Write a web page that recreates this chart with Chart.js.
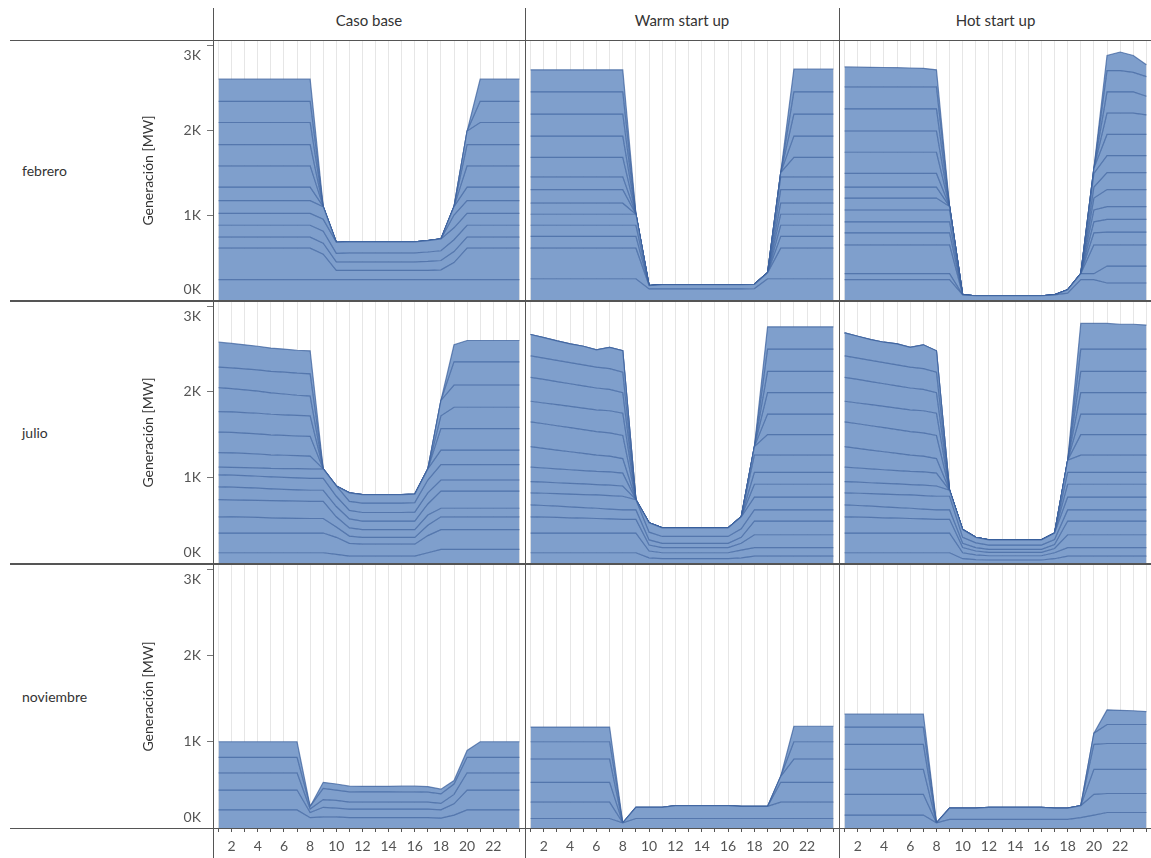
<!DOCTYPE html>
<html lang="es">
<head>
<meta charset="utf-8">
<title>Generación horaria por escenario</title>
<script src="https://cdn.jsdelivr.net/npm/chart.js@4.4.1/dist/chart.umd.min.js"></script>
<style>
  html, body { margin: 0; padding: 0; background: #fff; }
  #page { position: relative; width: 1151px; height: 858px; overflow: hidden;
          font-family: Lato, 'Open Sans', sans-serif; color: #333; }
  .pane { position: absolute; }
  .pane canvas { display: block; }
  .rule { position: absolute; background: #555; z-index: 3; }
  .colhead { position: absolute; top: 10px; height: 20px; line-height: 20px;
             text-align: center; font-size: 15px; color: #333; }
  .rowhead { position: absolute; left: 22px; font-size: 14px; color: #333;
             line-height: 18px; }
</style>
</head>
<body>
<div id="page"></div>
<script>
// Hours of the day and facet labels
const HOURS = [1,2,3,4,5,6,7,8,9,10,11,12,13,14,15,16,17,18,19,20,21,22,23,24];
const X_LABELS = [2,4,6,8,10,12,14,16,18,20,22];
const Y_TICKS = [0,1000,2000,3000];
const MONTHS = ['febrero','julio','noviembre'];
const SCENARIOS = ['Caso base','Warm start up','Hot start up'];

// Hourly output per generating unit [MW], stacked bottom to top
const febBase = [
  [240,240,240,240,240,240,240,240, 240,240,240,240,240,240,240,240, 240,240,240,240,240,240,240,240],
  [370,370,370,370,370,370,370,370, 300,110,110,110,110,110,110,110, 110,115,200,370,370,370,370,370],
  [130,130,130,130,130,130,130,130, 130,100,100,100,100,100,100,100, 105,110,130,130,130,130,130,130],
  [140,140,140,140,140,140,140,140, 140,100,105,105,105,105,105,105, 110,115,140,140,140,140,140,140],
  [140,140,140,140,140,140,140,140, 140,130,130,130,130,130,130,130, 135,140,140,140,140,140,140,140],
  [150,150,150,150,150,150,150,150, 150,0,0,0,0,0,0,0, 0,0,150,150,150,150,150,150],
  [160,160,160,160,160,160,160,160, 0,0,0,0,0,0,0,0, 0,0,100,160,160,160,160,160],
  [250,250,250,250,250,250,250,250, 0,0,0,0,0,0,0,0, 0,0,0,250,250,250,250,250],
  [250,250,250,250,250,250,250,250, 0,0,0,0,0,0,0,0, 0,0,0,250,250,250,250,250],
  [260,260,260,260,260,260,260,260, 0,0,0,0,0,0,0,0, 0,0,0,160,260,260,260,260],
  [250,250,250,250,250,250,250,250, 0,0,0,0,0,0,0,0, 0,0,0,0,250,250,250,250],
  [260,260,260,260,260,260,260,260, 0,0,0,0,0,0,0,0, 0,0,0,0,260,260,260,260]
];
const febWarm = [
  [250,250,250,250,250,250,250,250, 250,130,130,130,130,130,130,130, 130,135,250,250,250,250,250,250],
  [360,360,360,360,360,360,360,360, 360,40,50,50,50,50,50,50, 50,50,70,360,360,360,360,360],
  [140,140,140,140,140,140,140,140, 140,0,0,0,0,0,0,0, 0,0,0,140,140,140,140,140],
  [130,130,130,130,130,130,130,130, 130,0,0,0,0,0,0,0, 0,0,0,130,130,130,130,130],
  [130,130,130,130,130,130,130,130, 130,0,0,0,0,0,0,0, 0,0,0,130,130,130,130,130],
  [130,130,130,130,130,130,130,130, 0,0,0,0,0,0,0,0, 0,0,0,130,130,130,130,130],
  [160,160,160,160,160,160,160,160, 0,0,0,0,0,0,0,0, 0,0,0,160,160,160,160,160],
  [150,150,150,150,150,150,150,150, 0,0,0,0,0,0,0,0, 0,0,0,150,150,150,150,150],
  [230,230,230,230,230,230,230,230, 0,0,0,0,0,0,0,0, 0,0,0,50,230,230,230,230],
  [250,250,250,250,250,250,250,250, 0,0,0,0,0,0,0,0, 0,0,0,0,250,250,250,250],
  [260,260,260,260,260,260,260,260, 0,0,0,0,0,0,0,0, 0,0,0,0,260,260,260,260],
  [260,260,260,260,260,260,260,260, 0,0,0,0,0,0,0,0, 0,0,0,0,260,260,260,260],
  [260,260,260,260,260,260,260,260, 0,0,0,0,0,0,0,0, 0,0,0,0,270,270,270,270]
];
const febHot = [
  [240,240,240,240,240,240,240,240, 240,60,50,50,50,50,50,50, 60,80,240,240,200,200,200,200],
  [70,70,70,70,70,70,70,70, 70,0,0,0,0,0,0,0, 0,40,70,70,200,200,200,200],
  [340,340,340,340,340,340,340,340, 340,0,0,0,0,0,0,0, 0,0,0,340,250,250,250,250],
  [140,140,140,140,140,140,140,140, 140,0,0,0,0,0,0,0, 0,0,0,140,150,150,150,150],
  [130,130,130,130,130,130,130,130, 130,0,0,0,0,0,0,0, 0,0,0,130,150,150,150,150],
  [140,140,140,140,140,140,140,140, 140,0,0,0,0,0,0,0, 0,0,0,140,150,150,150,150],
  [140,140,140,140,140,140,140,140, 40,0,0,0,0,0,0,0, 0,0,0,140,200,200,200,200],
  [130,130,130,130,130,130,130,130, 0,0,0,0,0,0,0,0, 0,0,0,130,200,200,200,200],
  [160,160,160,160,160,160,160,160, 0,0,0,0,0,0,0,0, 0,0,0,160,200,200,200,200],
  [250,250,250,250,250,250,250,250, 0,0,0,0,0,0,0,0, 0,0,0,60,250,250,250,250],
  [250,250,250,250,250,250,250,250, 0,0,0,0,0,0,0,0, 0,0,0,0,250,250,250,230],
  [260,260,260,260,260,260,260,260, 0,0,0,0,0,0,0,0, 0,0,0,0,250,250,250,220],
  [260,260,260,260,260,260,260,260, 0,0,0,0,0,0,0,0, 0,0,0,0,250,250,230,230],
  [235,232,230,228,226,222,218,200, 0,0,0,0,0,0,0,0, 0,0,0,0,180,220,200,140]
];
const julBase = [
  [120,120,120,120,120,120,120,120, 120,100,80,80,80,80,80,80, 120,160,160,160,160,160,160,160],
  [230,230,230,230,230,230,230,230, 230,200,150,140,140,140,140,140, 200,230,230,230,230,230,230,230],
  [190,188,185,182,178,175,172,170, 170,120,85,80,80,80,80,80, 120,150,150,150,150,150,150,150],
  [200,200,200,200,200,200,200,200, 200,120,95,90,90,90,90,90, 120,100,100,100,100,100,100,100],
  [150,148,145,142,138,135,132,130, 130,120,105,100,100,100,100,100, 130,200,200,200,200,200,200,200],
  [140,140,140,140,140,140,140,140, 140,120,100,100,100,100,100,105, 130,130,130,130,130,130,130,130],
  [90,92,95,98,100,104,108,110, 110,120,105,110,110,110,110,110, 150,180,180,180,180,180,180,180],
  [170,168,165,162,158,155,152,150, 0,0,100,100,100,100,100,100, 130,170,170,170,170,170,170,170],
  [240,240,238,236,234,232,230,230, 0,0,0,0,0,0,0,0, 0,250,250,250,250,250,250,250],
  [240,240,240,240,240,240,240,240, 0,0,0,0,0,0,0,0, 0,150,250,250,250,250,250,250],
  [280,272,265,258,250,244,236,230, 0,0,0,0,0,0,0,0, 0,180,260,260,260,260,260,260],
  [240,243,246,249,252,255,258,260, 0,0,0,0,0,0,0,0, 0,0,270,270,270,270,270,270],
  [290,285,280,276,272,270,268,270, 0,0,0,0,0,0,0,0, 0,0,200,250,250,250,250,250]
];
const julWarm = [
  [120,120,120,120,120,120,120,120, 120,60,50,50,50,50,50,50, 60,80,80,80,80,80,80,80],
  [230,230,230,230,230,230,230,230, 230,80,70,70,70,70,70,70, 90,100,100,100,100,100,100,100],
  [190,186,182,178,174,170,165,160, 160,70,60,60,60,60,60,60, 80,150,150,150,150,150,150,150],
  [140,136,132,128,124,120,115,110, 110,60,50,50,50,50,50,50, 70,160,160,160,160,160,160,160],
  [140,143,146,149,152,155,158,160, 120,90,80,80,80,80,80,80, 100,130,130,130,130,130,130,130],
  [130,129,128,126,124,122,121,120, 0,110,100,100,100,100,100,100, 140,150,150,150,150,150,150,150],
  [170,166,162,159,156,153,155,150, 0,0,0,0,0,0,0,0, 0,150,150,150,150,150,150,150],
  [240,230,220,210,200,190,185,170, 0,0,0,0,0,0,0,0, 0,140,140,140,140,140,140,140],
  [290,287,284,281,278,275,272,270, 0,0,0,0,0,0,0,0, 0,200,200,200,200,200,200,200],
  [240,243,246,249,252,255,258,260, 0,0,0,0,0,0,0,0, 0,100,240,240,240,240,240,240],
  [280,275,270,265,260,255,250,240, 0,0,0,0,0,0,0,0, 0,0,240,240,240,240,240,240],
  [250,249,248,247,246,245,242,240, 0,0,0,0,0,0,0,0, 0,0,250,250,250,250,250,250],
  [250,240,227,218,217,201,249,250, 0,0,0,0,0,0,0,0, 0,0,250,250,250,250,250,250],
  [0,0,0,0,0,0,0,0, 0,0,0,0,0,0,0,0, 0,0,260,260,260,260,260,260],
  [0,0,0,0,0,0,0,0, 0,0,0,0,0,0,0,0, 0,0,260,260,260,260,260,260]
];
const julHot = [
  [120,120,120,120,120,120,120,120, 120,50,40,35,35,35,35,35, 50,80,80,80,80,80,80,80],
  [230,230,230,230,230,230,230,230, 230,70,55,50,50,50,50,50, 70,100,100,100,100,100,100,100],
  [190,186,182,178,174,170,165,160, 160,60,45,40,40,40,40,40, 50,150,150,150,150,150,150,150],
  [140,136,132,128,124,120,115,110, 110,50,40,35,35,35,35,35, 45,160,160,160,160,160,160,160],
  [140,143,146,149,152,155,158,160, 160,70,55,50,50,50,50,50, 60,130,130,130,130,130,130,130],
  [130,129,128,126,124,122,121,120, 70,90,65,60,60,60,60,60, 75,150,150,150,150,150,150,150],
  [170,166,162,159,156,153,155,150, 0,0,0,0,0,0,0,0, 0,150,150,150,150,150,150,150],
  [240,230,220,210,200,190,185,170, 0,0,0,0,0,0,0,0, 0,140,140,140,140,140,140,140],
  [290,287,284,281,278,275,272,270, 0,0,0,0,0,0,0,0, 0,140,200,200,200,200,200,200],
  [240,243,246,249,252,255,258,260, 0,0,0,0,0,0,0,0, 0,0,240,240,240,240,240,240],
  [280,275,270,265,260,255,250,240, 0,0,0,0,0,0,0,0, 0,0,240,240,240,240,240,240],
  [250,249,248,247,246,245,242,240, 0,0,0,0,0,0,0,0, 0,0,250,250,250,250,250,250],
  [270,256,242,238,244,230,279,250, 0,0,0,0,0,0,0,0, 0,0,250,250,250,250,250,250],
  [0,0,0,0,0,0,0,0, 0,0,0,0,0,0,0,0, 0,0,260,260,260,260,260,260],
  [0,0,0,0,0,0,0,0, 0,0,0,0,0,0,0,0, 0,0,300,300,300,290,290,280]
];
const novBase = [
  [210,210,210,210,210,210,210,120, 130,130,120,120,120,120,120,120, 120,115,150,210,210,210,210,210],
  [230,230,230,230,230,230,230,60, 110,100,100,100,100,100,100,100, 100,95,130,230,230,230,230,230],
  [200,200,200,200,200,200,200,40, 90,90,80,80,80,80,80,80, 80,75,110,200,200,200,200,200],
  [180,180,180,180,180,180,180,30, 130,120,120,118,118,118,120,120, 115,110,120,180,180,180,180,180],
  [180,180,180,180,180,180,180,0, 70,70,65,65,65,65,65,65, 65,55,40,80,180,180,180,180]
];
const novWarm = [
  [110,110,110,110,110,110,110,60, 110,110,110,110,110,110,110,110, 110,110,110,110,110,110,110,110],
  [190,190,190,190,190,190,190,0, 130,130,130,150,150,150,150,150, 140,140,140,190,190,190,190,190],
  [230,230,230,230,230,230,230,0, 0,0,0,0,0,0,0,0, 0,0,0,230,230,230,230,230],
  [270,270,270,270,270,270,270,0, 0,0,0,0,0,0,0,0, 0,0,0,70,270,270,270,270],
  [200,200,200,200,200,200,200,0, 0,0,0,0,0,0,0,0, 0,0,0,0,200,200,200,200],
  [170,170,170,170,170,170,170,0, 0,0,0,0,0,0,0,0, 0,0,0,0,180,180,180,180]
];
const novHot = [
  [150,150,150,150,150,150,150,60, 100,100,100,100,100,100,100,100, 100,100,120,150,180,180,180,180],
  [240,240,240,240,240,240,240,0, 130,130,130,140,140,140,140,140, 130,130,140,240,220,220,220,220],
  [290,290,290,290,290,290,290,0, 0,0,0,0,0,0,0,0, 0,0,0,290,280,280,280,280],
  [290,290,290,290,290,290,290,0, 0,0,0,0,0,0,0,0, 0,0,0,290,300,300,300,300],
  [200,200,200,200,200,200,200,0, 0,0,0,0,0,0,0,0, 0,0,0,130,220,220,220,220],
  [150,150,150,150,150,150,150,0, 0,0,0,0,0,0,0,0, 0,0,0,0,170,165,160,150]
];

const PANELS = [
  [febBase, febWarm, febHot],
  [julBase, julWarm, julHot],
  [novBase, novWarm, novHot]
];

// Layout of the 3 x 3 grid of panes
const COL_LEFT = [214, 526, 840], COL_W = [310, 312, 311];
const ROW_TOP = [41, 302, 565], ROW_H = [259, 261, 263];
const Y_AXIS_W = 84, X_AXIS_H = 30;
const X_MIN = 0.65, X_MAX = 24.35, Y_MAX = 3050;

const FILL = '#7f9fcc';
const EDGE = 'rgba(58,96,156,0.72)';
const GRID = '#e6e6e6';

Chart.defaults.font.family = "Lato, 'Open Sans', sans-serif";

const page = document.getElementById('page');

function yLabel(v) {
  // end labels are nudged inside the pane with an empty second line
  if (v === 0) return ['0K', ''];
  if (v === 3000) return ['', '3K'];
  return (v / 1000) + 'K';
}

function makePane(r, c) {
  const withY = c === 0, withX = r === 2;
  const left = COL_LEFT[c] - (withY ? Y_AXIS_W : 0);
  const w = COL_W[c] + (withY ? Y_AXIS_W : 0);
  const h = ROW_H[r] + (withX ? X_AXIS_H : 0);
  const box = document.createElement('div');
  box.className = 'pane';
  box.style.left = left + 'px';
  box.style.top = ROW_TOP[r] + 'px';
  box.style.width = w + 'px';
  box.style.height = h + 'px';
  const cv = document.createElement('canvas');
  cv.width = w; cv.height = h;
  cv.style.width = w + 'px'; cv.style.height = h + 'px';
  box.appendChild(cv);
  page.appendChild(box);

  const units = PANELS[r][c];
  new Chart(cv, {
    type: 'line',
    data: {
      datasets: units.map((u, i) => ({
        data: u.map((v, k) => ({ x: HOURS[k], y: v })),
        fill: i === 0 ? 'origin' : '-1',
        backgroundColor: FILL,
        borderColor: EDGE,
        borderWidth: 1.2,
        pointRadius: 0,
        pointHoverRadius: 0,
        tension: 0
      }))
    },
    options: {
      responsive: false,
      devicePixelRatio: 1,
      animation: false,
      events: [],
      layout: { padding: 0 },
      plugins: { legend: { display: false }, tooltip: { enabled: false } },
      scales: {
        x: {
          type: 'linear', min: X_MIN, max: X_MAX,
          afterBuildTicks: s => { s.ticks = HOURS.map(v => ({ value: v })); },
          afterFit: s => {
            s.height = withX ? X_AXIS_H : 0;
            s.paddingLeft = 0; s.paddingRight = 0; s.paddingTop = 0; s.paddingBottom = 0;
          },
          ticks: {
            display: withX, autoSkip: false, maxRotation: 0, minRotation: 0,
            padding: 6, color: '#555', font: { size: 14 },
            callback: v => X_LABELS.includes(v) ? String(v) : ''
          },
          grid: { color: GRID, lineWidth: 1, drawTicks: withX, tickLength: 4, tickColor: '#555' },
          border: { display: false }
        },
        y: {
          type: 'linear', stacked: true, min: 0, max: Y_MAX, display: withY,
          afterBuildTicks: s => { s.ticks = Y_TICKS.map(v => ({ value: v })); },
          afterFit: s => {
            s.width = withY ? Y_AXIS_W : 0;
            s.paddingTop = 0; s.paddingBottom = 0; s.paddingLeft = 0; s.paddingRight = 0;
          },
          ticks: {
            padding: 6, color: '#555', font: { size: 14, lineHeight: 1.5 },
            callback: yLabel
          },
          grid: { drawOnChartArea: false, drawTicks: true, tickLength: 7, tickColor: '#777' },
          border: { display: false },
          title: {
            display: true, text: 'Generación [MW]', color: '#333',
            font: { size: 14 }, padding: { top: 10, bottom: 0 }
          }
        }
      }
    }
  });
}

for (let r = 0; r < 3; r++) for (let c = 0; c < 3; c++) makePane(r, c);

// Column and row headers
SCENARIOS.forEach((name, c) => {
  const d = document.createElement('div');
  d.className = 'colhead';
  d.style.left = COL_LEFT[c] + 'px';
  d.style.width = COL_W[c] + 'px';
  d.textContent = name;
  page.appendChild(d);
});
MONTHS.forEach((name, r) => {
  const d = document.createElement('div');
  d.className = 'rowhead';
  d.style.top = (ROW_TOP[r] + ROW_H[r] / 2 - 9) + 'px';
  d.textContent = name;
  page.appendChild(d);
});

// Pane dividers
function rule(x, y, w, h) {
  const d = document.createElement('div');
  d.className = 'rule';
  d.style.left = x + 'px'; d.style.top = y + 'px';
  d.style.width = w + 'px'; d.style.height = h + 'px';
  page.appendChild(d);
}
rule(10, 40, 1141, 1);
rule(10, 300, 1141, 2);
rule(10, 563, 1141, 2);
rule(10, 828, 1141, 1);
rule(213, 8, 1, 850);
rule(525, 8, 1, 850);
rule(839, 8, 1, 850);
</script>
</body>
</html>
